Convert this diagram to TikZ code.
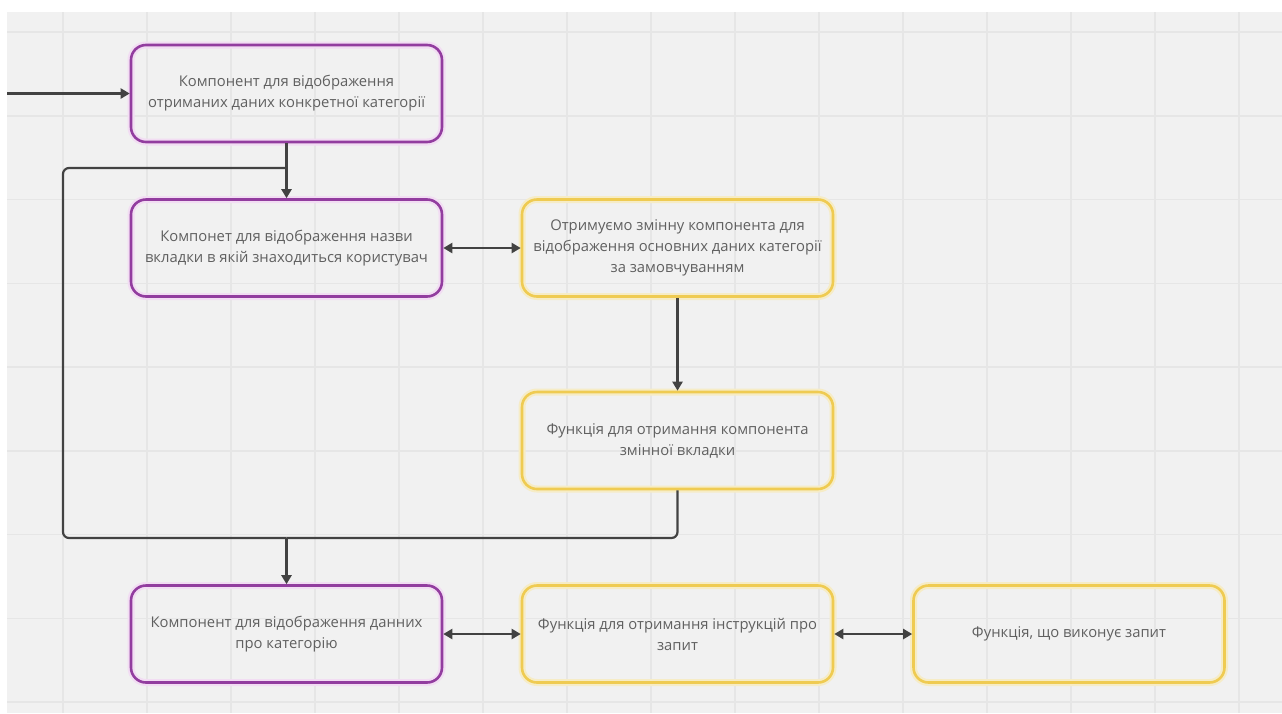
\documentclass[tikz,border=0pt]{standalone}
\usepackage{fontspec}
\setmainfont{Open Sans}
\usetikzlibrary{arrows.meta}

\definecolor{canvas}{HTML}{F1F1F1}
\definecolor{gridcol}{HTML}{E6E6E6}
\definecolor{purp}{HTML}{923D9F}
\definecolor{purphalo}{HTML}{F2DDF3}
\definecolor{yell}{HTML}{EFCB52}
\definecolor{yellhalo}{HTML}{F6ECC6}
\definecolor{txt}{HTML}{606060}
\definecolor{linecol}{HTML}{424242}

\tikzset{
  gridline/.style={draw=gridcol, line width=1.5pt},
  box/.style={rounded corners=15pt, line width=2.6pt, minimum width=311pt,
    minimum height=97pt, align=center, text=txt, inner sep=0pt,
    font=\fontsize{14.8}{21}\selectfont},
  purplebox/.style={box, draw=purp, preaction={draw=purphalo, line width=7pt}},
  yellowbox/.style={box, draw=yell, preaction={draw=yellhalo, line width=7pt}},
  conn/.style={draw=linecol, line width=2.2pt},
  tip/.style={-{Triangle[length=9pt,width=10pt]}},
  twotip/.style={{Triangle[length=9pt,width=10pt]}-{Triangle[length=9pt,width=10pt]}}
}

\begin{document}
\begin{tikzpicture}[x=1pt,y=-1pt]
\useasboundingbox (0,0) rectangle (1282,713);
\fill[white] (0,0) rectangle (1282,713);
\fill[canvas] (7,12) rectangle (1282,713);

% board grid
\foreach \i in {0,...,14} \draw[gridline] (63+84*\i,12) -- (63+84*\i,713);
\foreach \j in {0,...,8} \draw[gridline] (7,32+83.75*\j) -- (1282,32+83.75*\j);

% components (purple) and functions (yellow)
\node[purplebox] (A) at (286.5,93.5) {Компонент для відображення\\отриманих даних конкретної категорії};
\node[purplebox] (B) at (286.5,248) {Компонет для відображення назви\\вкладки в якій знаходиться користувач};
\node[yellowbox] (C) at (677.5,248) {Отримуємо змінну компонента для\\відображення основних даних категорії\\за замовчуванням};
\node[yellowbox] (D) at (677.5,440.5) {Функція для отримання компонента\\змінної вкладки};
\node[purplebox] (E) at (286.5,634) {Компонент для відображення данних\\про категорію};
\node[yellowbox] (F) at (677.5,634) {Функція для отримання інструкцій про\\запит};
\node[yellowbox] (G) at (1069,634) {Функція, що виконує запит};

% routing points
\coordinate (entry) at (7,93.5);
\coordinate (split) at (286.5,168);
\coordinate (loopTL) at (63,168);
\coordinate (loopBL) at (63,538);
\coordinate (merge) at (286.5,538);

% connectors
\draw[conn, tip] (entry) -- (A.west);
\draw[conn, tip] (A.south) -- (B.north);
\draw[conn, rounded corners=6pt] (split) -- (loopTL) -- (loopBL) -- (merge);
\draw[conn, rounded corners=6pt] (D.south) |- (merge);
\draw[conn, tip] (merge) -- (E.north);
\draw[conn, tip] (C.south) -- (D.north);
\draw[conn, twotip] (B.east) -- (C.west);
\draw[conn, twotip] (E.east) -- (F.west);
\draw[conn, twotip] (F.east) -- (G.west);
\end{tikzpicture}
\end{document}
